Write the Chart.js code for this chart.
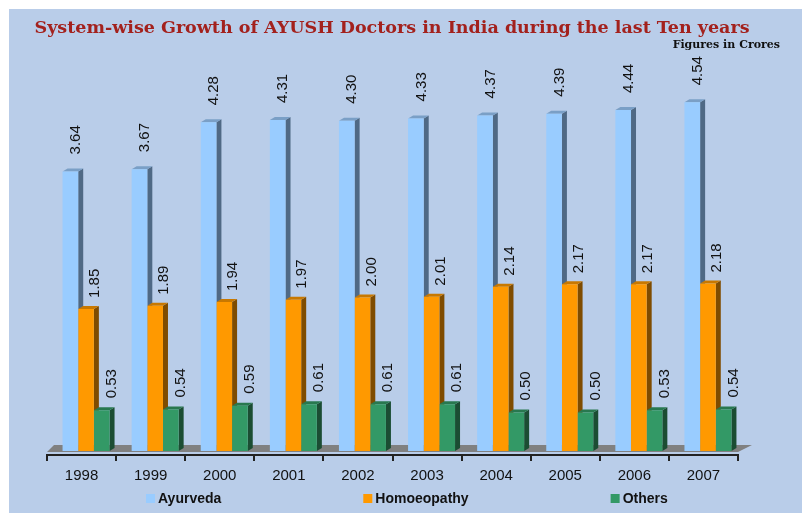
<!DOCTYPE html>
<html>
<head>
<meta charset="utf-8">
<script src="https://cdn.jsdelivr.net/npm/chart.js@4/dist/chart.umd.min.js"></script>
<style>
  html, body { margin: 0; padding: 0; background: #fff; }
  #wrap { position: absolute; left: 9px; top: 9px; width: 793px; height: 504px; background: #b9cde9; }
</style>
</head>
<body>
<div id="wrap"><canvas id="ayush-chart-js" width="793" height="504"></canvas></div>
<script>
const years = ['1998', '1999', '2000', '2001', '2002', '2003', '2004', '2005', '2006', '2007'];
const ayurveda = [3.64, 3.67, 4.28, 4.31, 4.30, 4.33, 4.37, 4.39, 4.44, 4.54];
const homoeopathy = [1.85, 1.89, 1.94, 1.97, 2.00, 2.01, 2.14, 2.17, 2.17, 2.18];
const others = [0.53, 0.54, 0.59, 0.61, 0.61, 0.61, 0.50, 0.50, 0.53, 0.54];
const seriesNames = ['Ayurveda', 'Homoeopathy', 'Others'];

const chartTitle = 'System-wise Growth of AYUSH Doctors in India during the last Ten years';
const unitNote = 'Figures in Crores';

// 3d look
const depthX = 5;
const depthY = 3;
const axisShift = 4.5;

const depthPlugin = {
  id: 'depth3d',
  beforeDatasetsDraw(chart) {
    const ctx = chart.ctx;
    const xs = chart.scales.x;
    const area = chart.chartArea;
    const left = xs.left - axisShift;
    const right = xs.right - axisShift;
    const floorY = area.bottom + 1;

    ctx.save();
    // floor
    ctx.fillStyle = '#808080';
    ctx.beginPath();
    ctx.moveTo(left, floorY);
    ctx.lineTo(left + 7, floorY - 7);
    ctx.lineTo(right + 14, floorY - 7);
    ctx.lineTo(right, floorY);
    ctx.closePath();
    ctx.fill();

    // axis line + category ticks
    ctx.strokeStyle = '#222';
    ctx.lineWidth = 2;
    ctx.beginPath();
    ctx.moveTo(left, floorY + 3);
    ctx.lineTo(right, floorY + 3);
    const step = (xs.right - xs.left) / years.length;
    for (let i = 0; i <= years.length; i++) {
      const tx = Math.round(left + i * step);
      ctx.moveTo(tx, floorY + 2);
      ctx.lineTo(tx, floorY + 9);
    }
    ctx.stroke();

    // side + top faces of bars
    chart.data.datasets.forEach((ds, i) => {
      const meta = chart.getDatasetMeta(i);
      meta.data.forEach((bar) => {
        const {x, y, base, width} = bar.getProps(['x', 'y', 'base', 'width'], true);
        const l = x - width / 2;
        const r = x + width / 2;
        ctx.fillStyle = ds.sideColor;
        ctx.beginPath();
        ctx.moveTo(r, y);
        ctx.lineTo(r + depthX, y - depthY);
        ctx.lineTo(r + depthX, base - depthY);
        ctx.lineTo(r, base);
        ctx.closePath();
        ctx.fill();
        ctx.fillStyle = ds.topColor;
        ctx.beginPath();
        ctx.moveTo(l, y);
        ctx.lineTo(l + depthX, y - depthY);
        ctx.lineTo(r + depthX, y - depthY);
        ctx.lineTo(r, y);
        ctx.closePath();
        ctx.fill();
      });
    });
    ctx.restore();
  },
  afterDatasetsDraw(chart) {
    const ctx = chart.ctx;
    ctx.save();
    ctx.font = '15px "Liberation Sans", Arial, sans-serif';
    ctx.fillStyle = '#111';
    ctx.textAlign = 'left';
    ctx.textBaseline = 'middle';
    chart.data.datasets.forEach((ds, i) => {
      const meta = chart.getDatasetMeta(i);
      meta.data.forEach((bar, j) => {
        const {x, y} = bar.getProps(['x', 'y'], true);
        ctx.save();
        ctx.translate(x + ds.labelDx, y - ds.labelGap);
        ctx.rotate(-Math.PI / 2);
        ctx.fillText(ds.data[j].toFixed(2), 0, 0);
        ctx.restore();
      });
    });
    ctx.restore();
  },
  afterDraw(chart) {
    const ctx = chart.ctx;
    ctx.save();
    // title
    ctx.fillStyle = '#a3211d';
    ctx.font = 'bold 17.5px "DejaVu Serif", serif';
    ctx.textAlign = 'center';
    ctx.textBaseline = 'alphabetic';
    ctx.fillText(chartTitle, 383, 24);
    ctx.fillStyle = '#111';
    ctx.font = 'bold 11px "DejaVu Serif", serif';
    ctx.textAlign = 'right';
    ctx.fillText(unitNote, 771, 39);

    // legend
    ctx.font = 'bold 14px "Liberation Sans", Arial, sans-serif';
    ctx.textAlign = 'left';
    ctx.textBaseline = 'middle';
    let lx = 137;
    chart.data.datasets.forEach((ds) => {
      ctx.fillStyle = ds.backgroundColor;
      ctx.fillRect(lx, 485, 9, 9);
      ctx.fillStyle = '#111';
      ctx.fillText(ds.label, lx + 12, 490);
      lx += 12 + ctx.measureText(ds.label).width + 142;
    });
    ctx.restore();
  }
};

new Chart(document.getElementById('ayush-chart-js').getContext('2d'), {
  type: 'bar',
  data: {
    labels: years,
    datasets: [{
      label: seriesNames[0],
      data: ayurveda,
      backgroundColor: '#99ccff',
      sideColor: '#4f6985',
      topColor: '#7a9fc6',
      labelDx: 5.5,
      labelGap: 17
    }, {
      label: seriesNames[1],
      data: homoeopathy,
      backgroundColor: '#ff9900',
      sideColor: '#7f4c00',
      topColor: '#c87800',
      labelDx: 9,
      labelGap: 11
    }, {
      label: seriesNames[2],
      data: others,
      backgroundColor: '#339966',
      sideColor: '#1b4d33',
      topColor: '#28784f',
      labelDx: 10,
      labelGap: 12
    }]
  },
  options: {
    responsive: false,
    animation: false,
    devicePixelRatio: 1,
    barPercentage: 1,
    categoryPercentage: 0.68,
    layout: {
      padding: {left: 42.5, right: 59.5, top: 58, bottom: 12}
    },
    plugins: {
      legend: {display: false},
      title: {display: false},
      tooltip: {enabled: false}
    },
    scales: {
      x: {
        grid: {display: false, drawTicks: false},
        border: {display: false},
        ticks: {
          color: '#111',
          font: {family: '"Liberation Sans", Arial, sans-serif', size: 15},
          padding: 16,
          labelOffset: -axisShift,
          maxRotation: 0
        }
      },
      y: {
        display: false,
        min: 0,
        max: 5
      }
    }
  },
  plugins: [depthPlugin]
});
</script>
</body>
</html>
